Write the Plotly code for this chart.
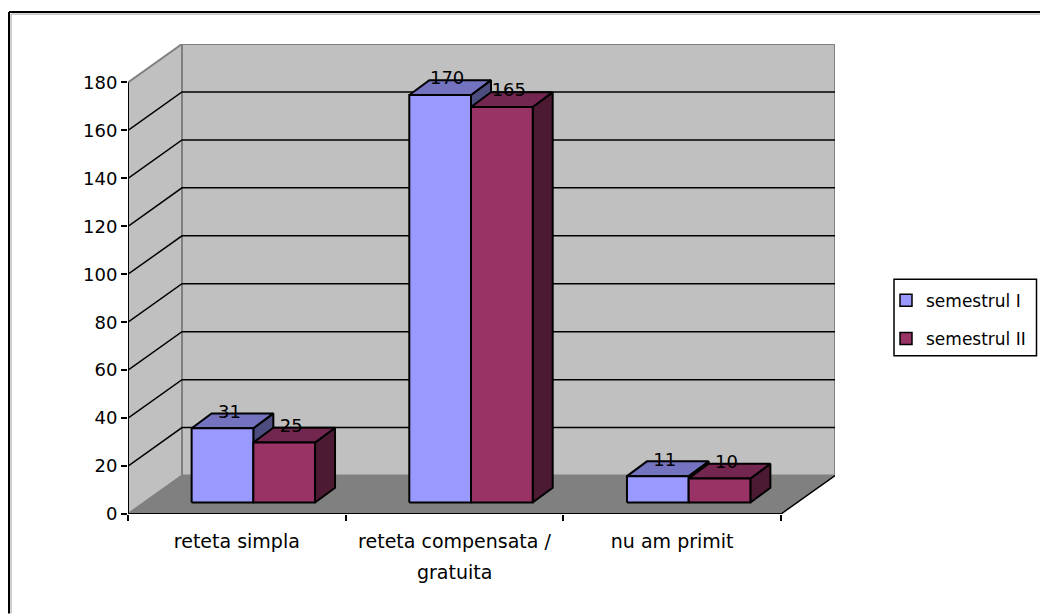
import plotly.graph_objects as go

categories = ["reteta simpla", "reteta compensata /", "nu am primit"]
category_second_line = ["", "gratuita", ""]
series_names = ["semestrul I", "semestrul II"]
semestrul_1 = [31, 170, 11]
semestrul_2 = [25, 165, 10]
y_ticks = [0, 20, 40, 60, 80, 100, 120, 140, 160, 180]

FONT = "DejaVu Sans"
FS = 18
FS_X = 19
FS_LEG = 17
face_colors = [("#9999FF", "#7373BF", "#4D4D80"), ("#993366", "#732650", "#4D1A33")]

# pixel-to-axis scale factors (oblique projection)
PX_X = 653 / 3
PX_Y = 2.4
L, T, R, B = 128, 44, 835, 514.5
wall_dx, wall_dy = 54 / PX_X, 38.5 / PX_Y
base_dx, base_dy = 16.5 / PX_X, 11.5 / PX_Y
bar_dx, bar_dy = 20 / PX_X, 14.8 / PX_Y
bar_w = 61.7 / PX_X
ymax_tick = y_ticks[-1]


def px(v):
    return (v - L) / (R - L)


def py(v):
    return (B - v) / (B - T)


fig = go.Figure()


def poly(xs, ys, fill, line="black", width=2):
    fig.add_trace(go.Scatter(x=xs, y=ys, mode="lines", fill="toself", fillcolor=fill,
                             line=dict(color=line, width=width), showlegend=False, hoverinfo="skip"))


def line(xs, ys, color="black", width=1.5):
    fig.add_trace(go.Scatter(x=xs, y=ys, mode="lines", line=dict(color=color, width=width),
                             showlegend=False, hoverinfo="skip"))


# walls and floor
poly([0, wall_dx, wall_dx, 0, 0], [0, wall_dy, ymax_tick + wall_dy, ymax_tick, 0], "#C0C0C0", "#808080", 2)
poly([wall_dx, 3 + wall_dx, 3 + wall_dx, wall_dx, wall_dx],
     [wall_dy, wall_dy, ymax_tick + wall_dy, ymax_tick + wall_dy, wall_dy], "#C0C0C0", "#808080", 2)
poly([0, 3, 3 + wall_dx, wall_dx, 0], [0, 0, wall_dy, wall_dy, 0], "#808080", "#808080", 1)

# gridlines
for v in y_ticks[1:-1]:
    line([0, wall_dx, 3 + wall_dx], [v, v + wall_dy, v + wall_dy], "#000000", 1.5)

# bars
for c in range(len(categories)):
    for s, vals in enumerate([semestrul_1, semestrul_2]):
        v = vals[c]
        front, top, side = face_colors[s]
        x0 = c + 0.5 + base_dx + (s - 1) * bar_w
        x1 = x0 + bar_w
        y0, y1 = base_dy, base_dy + v
        poly([x1, x1 + bar_dx, x1 + bar_dx, x1, x1], [y0, y0 + bar_dy, y1 + bar_dy, y1, y0], side)
        poly([x0, x1, x1 + bar_dx, x0 + bar_dx, x0], [y1, y1, y1 + bar_dy, y1 + bar_dy, y1], top)
        poly([x0, x1, x1, x0, x0], [y0, y0, y1, y1, y0], front)

# front axes
line([0, 0], [0, ymax_tick], "#000000", 2)
line([0, 3], [0, 0], "#000000", 2)
line([3, 3 + wall_dx], [0, wall_dy], "#000000", 1.5)

# data labels
for s, vals in enumerate([semestrul_1, semestrul_2]):
    fig.add_trace(go.Scatter(
        x=[c + 0.5 + base_dx + (s - 0.5) * bar_w + 7 / PX_X for c in range(len(categories))],
        y=[v + base_dy + 15 / PX_Y for v in vals],
        mode="text", text=[str(v) for v in vals], textposition="middle center",
        textfont=dict(family=FONT, size=FS, color="black"), showlegend=False, hoverinfo="skip", cliponaxis=False))

# legend keys
for name, cols in zip(series_names, face_colors):
    fig.add_trace(go.Scatter(x=[None], y=[None], mode="markers", name=name, legendgroup=name,
                             marker=dict(symbol="square", size=12, color=cols[0], line=dict(color="black", width=1.5))))

annots = []
for c, t in enumerate(category_second_line):
    if t:
        annots.append(dict(x=c + 0.5, y=py(573), xref="x", yref="paper", yanchor="middle", text=t,
                           showarrow=False, font=dict(family=FONT, size=FS_X, color="black")))

fig.update_layout(
    width=1040, height=614, autosize=False, paper_bgcolor="white", plot_bgcolor="white",
    margin=dict(l=L, r=1040 - R, t=T, b=614 - B, pad=0, autoexpand=False),
    font=dict(family=FONT, size=FS, color="black"),
    xaxis=dict(range=[0, (R - L) / PX_X], showgrid=False, zeroline=False, showline=False,
               tickmode="array", tickvals=[0.5, 1.5, 2.5], ticktext=categories, ticks="outside",
               ticklen=0, ticklabelstandoff=10, tickangle=0, tickfont=dict(family=FONT, size=FS_X),
               minor=dict(tickmode="array", tickvals=[0, 1, 2, 3], ticks="outside", ticklen=6,
                          tickcolor="black", tickwidth=2, showgrid=False)),
    yaxis=dict(range=[0, (B - T) / PX_Y], showgrid=False, zeroline=False, showline=False,
               tickmode="array", tickvals=y_ticks, ticks="outside", ticklen=6, tickcolor="black",
               tickwidth=2, tickfont=dict(family=FONT, size=FS)),
    legend=dict(x=px(886), y=py(283), xanchor="left", yanchor="top", tracegroupgap=13,
                bgcolor="rgba(0,0,0,0)", borderwidth=0, font=dict(family=FONT, size=FS_LEG)),
    annotations=annots,
    shapes=[
        dict(type="line", xref="paper", yref="paper", x0=px(9), x1=px(1040), y0=py(12), y1=py(12),
             line=dict(color="black", width=2)),
        dict(type="line", xref="paper", yref="paper", x0=px(9), x1=px(9), y0=py(12), y1=py(614),
             line=dict(color="black", width=2)),
        dict(type="line", xref="paper", yref="paper", x0=px(11), x1=px(1040), y0=py(14), y1=py(14),
             line=dict(color="#A0A0A0", width=1)),
        dict(type="line", xref="paper", yref="paper", x0=px(11), x1=px(11), y0=py(14), y1=py(614),
             line=dict(color="#A0A0A0", width=1)),
        dict(type="rect", xref="paper", yref="paper", x0=px(894), x1=px(1036.5),
             y0=py(356), y1=py(279.5), line=dict(color="black", width=1.5)),
    ],
)
fig.write_html("out.html", config={"displayModeBar": False},
               post_script="document.body.style.margin='0';document.documentElement.style.overflow='hidden';")
